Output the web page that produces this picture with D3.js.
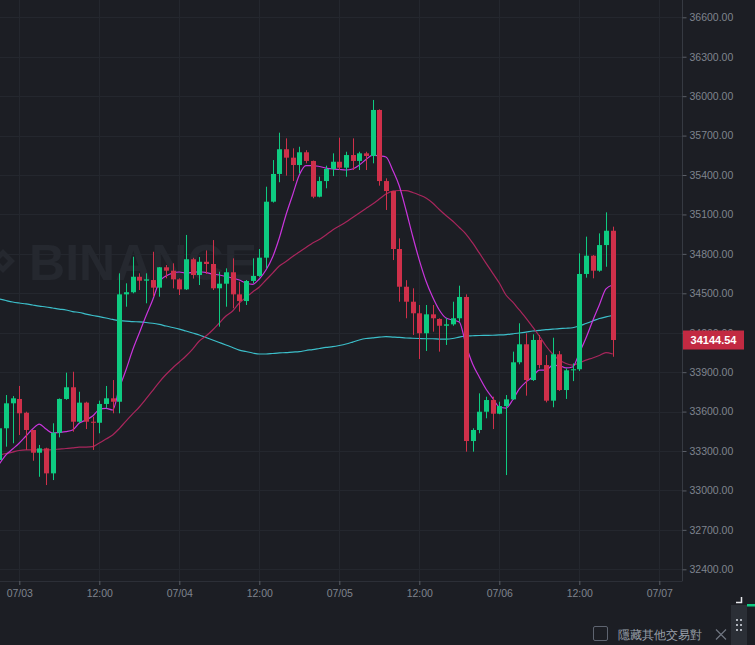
<html>
<head>
  <script src="https://d3js.org/d3.v7.min.js"></script>
  <style>
    body { margin: 0; background: #1c1e24; overflow: hidden; }
    text { font-family: "Liberation Sans", Arial, sans-serif; }
  </style>
</head>
<body>
  <svg id="chart" width="755" height="645"></svg>

  <script>
    // hourly candles, first one opens 07/02 21:00
    const startTime = new Date(2021, 6, 2, 21);

    const opens = [
      33232, 33473, 33663, 33696, 33591, 33460, 33287, 33320, 33130, 33439,
      33696, 33785, 33523, 33668, 33523, 33515, 33658, 33701, 33675, 34492,
      34508, 34626, 34596, 34601, 34543, 34698, 34672, 34606, 34530, 34759,
      34639, 34740, 34723, 34538, 34573, 34660, 34492, 34441, 34594, 34632,
      34771, 35197, 35408, 35596, 35532, 35476, 35573, 35507, 35235, 35354,
      35446, 35501, 35456, 35552, 35507, 35565, 35545, 35895, 35354, 35278,
      34837, 34550, 34436, 34348, 34196, 34340, 34305, 34253, 34264, 34310,
      34472, 33376, 33460, 33599, 33688, 33584, 33642, 33693, 33975, 34112,
      33840, 34145, 33954, 33683, 34036, 33764, 33914, 33922, 34647, 34786,
      34672, 34867, 34976
    ];
    const highs = [
      33498, 33726, 33718, 33795, 33599, 33460, 33346, 33325, 33511, 33700,
      33896, 33903, 33751, 33675, 33561, 33683, 33795, 33840, 34652, 34576,
      34778, 34652, 34652, 34816, 34700, 34715, 34728, 34614, 34944, 34770,
      34776, 34826, 34905, 34664, 34690, 34766, 34588, 34601, 34766, 34837,
      35311, 35514, 35722, 35679, 35603, 35615, 35589, 35510, 35387, 35471,
      35565, 35684, 35577, 35679, 35577, 35577, 35971, 35900, 35375, 35280,
      34918, 34600, 34538, 34411, 34411, 34411, 34310, 34310, 34436, 34558,
      34492, 33473, 33739, 33713, 33713, 33675, 33726, 34056, 34272, 34196,
      34188, 34183, 34030, 34162, 34061, 33929, 33967, 34804, 34931, 34791,
      34956, 35116, 35007
    ];
    const lows = [
      33216, 33333, 33359, 33422, 33308, 33226, 33104, 33041, 33079, 33404,
      33690, 33447, 33511, 33467, 33308, 33435, 33625, 33587, 33587, 34398,
      34500, 34525, 34424, 34474, 34474, 34614, 34538, 34487, 34525, 34612,
      34563, 34647, 34525, 34246, 34398, 34386, 34360, 34411, 34576, 34625,
      34690, 35190, 35345, 35395, 35354, 35413, 35489, 35223, 35230, 35299,
      35392, 35438, 35387, 35438, 35438, 35438, 35489, 35319, 35134, 34753,
      34436, 34310, 34183, 34000, 34061, 34208, 34056, 34107, 34253, 34284,
      33295, 33295, 33435, 33549, 33467, 33580, 33117, 33688, 33960, 33721,
      33833, 33929, 33670, 33633, 33757, 33696, 33832, 33909, 34619, 34614,
      34664, 34702, 34017
    ];
    const closes = [
      33473, 33663, 33701, 33587, 33460, 33287, 33320, 33130, 33439, 33696,
      33785, 33523, 33668, 33523, 33515, 33658, 33701, 33675, 34492, 34508,
      34626, 34596, 34606, 34543, 34698, 34672, 34606, 34530, 34759, 34639,
      34740, 34723, 34538, 34573, 34660, 34492, 34441, 34594, 34632, 34771,
      35197, 35408, 35596, 35532, 35476, 35573, 35507, 35235, 35354, 35446,
      35501, 35456, 35552, 35507, 35565, 35545, 35895, 35354, 35278, 34837,
      34550, 34436, 34348, 34196, 34340, 34310, 34253, 34264, 34310, 34472,
      33376, 33460, 33599, 33688, 33584, 33642, 33693, 33975, 34112, 33840,
      34145, 33954, 33683, 34036, 33764, 33914, 33922, 34647, 34786, 34672,
      34867, 34976, 34144.54
    ];

    // moving averages as drawn
    const ma7 = [
      33201, 33270, 33315, 33361, 33414, 33467, 33505, 33467, 33437, 33441,
      33447, 33460, 33513, 33536, 33566, 33616, 33625, 33612, 33779, 33916,
      34068, 34198, 34327, 34449, 34586, 34632, 34654, 34662, 34654, 34658,
      34664, 34658, 34647, 34639, 34628, 34616, 34601, 34578, 34568, 34609,
      34677, 34776, 34921, 35096, 35248, 35400, 35472, 35472, 35465, 35453,
      35446, 35442, 35438, 35446, 35476, 35518, 35552, 35545, 35537, 35438,
      35316, 35134, 34936, 34753, 34594, 34472, 34373, 34312, 34297, 34282,
      34107, 33962, 33863, 33772, 33703, 33635, 33627, 33688, 33772, 33825,
      33863, 33916, 33916, 33951, 33949, 33932, 33939, 34046, 34160, 34289,
      34411, 34533, 34563
    ];
    const ma25 = [
      33270, 33281, 33292, 33304, 33308, 33308, 33308, 33309, 33311, 33315,
      33319, 33324, 33329, 33330, 33334, 33361, 33391, 33422, 33471, 33528,
      33582, 33635, 33696, 33760, 33825, 33882, 33932, 33977, 34023, 34076,
      34137, 34175, 34221, 34274, 34327, 34365, 34426, 34468, 34510, 34548,
      34601, 34654, 34708, 34742, 34780, 34814, 34848, 34883, 34909, 34944,
      34982, 35012, 35042, 35077, 35111, 35145, 35179, 35217, 35256, 35278,
      35282, 35281, 35267, 35248, 35225, 35187, 35138, 35092, 35050, 35001,
      34951, 34883, 34807, 34730, 34654, 34578, 34487, 34434, 34373, 34312,
      34244, 34175, 34099, 34038, 33992, 33966, 33954, 33970, 33992, 34008,
      34027, 34049, 34038
    ];
    const ma99 = [
      34457, 34445, 34434, 34426, 34419, 34411, 34403, 34396, 34388, 34380,
      34373, 34361, 34354, 34342, 34331, 34322, 34312, 34301, 34291, 34289,
      34285, 34282, 34278, 34272, 34263, 34251, 34240, 34228, 34213, 34198,
      34183, 34164, 34145, 34126, 34107, 34088, 34068, 34057, 34046, 34038,
      34038, 34042, 34046, 34049, 34053, 34056, 34065, 34072, 34080, 34088,
      34094, 34103, 34114, 34129, 34145, 34156, 34161, 34166, 34170, 34167,
      34164, 34160, 34158, 34156, 34154, 34154, 34152, 34152, 34156, 34167,
      34175, 34177, 34179, 34180, 34181, 34183, 34186, 34192, 34198, 34205,
      34213, 34218, 34223, 34227, 34231, 34234, 34238, 34251, 34270, 34289,
      34308, 34320, 34331
    ];

    const priceTicks = d3.range(32400, 36601, 300);
    const timeTicks = d3.timeHour.every(12).range(new Date(2021, 6, 3, 0), new Date(2021, 6, 7, 1));

    const upColor = '#0ecb81';
    const downColor = '#cf304a';
    const gridColor = '#24272e';
    const labelColor = '#7f848e';

    const plotRight = 682.5;
    const plotBottom = 581;

    const times = opens.map((d, i) => d3.timeHour.offset(startTime, i));

    const x = d3.scaleTime()
      .domain([new Date(2021, 6, 3, 0), new Date(2021, 6, 7, 0)])
      .range([19.3, 659.3]);
    const y = d3.scaleLinear()
      .domain([32400, 36600])
      .range([569.3, 17.3]);

    const svg = d3.select('#chart');

    svg.append('rect')
      .attr('width', 755).attr('height', 645)
      .attr('fill', '#1c1e24');

    svg.append('defs').append('clipPath').attr('id', 'plot')
      .append('rect').attr('x', 0).attr('y', 0)
      .attr('width', plotRight).attr('height', plotBottom);

    // grid
    svg.append('g').selectAll('line').data(priceTicks).enter().append('line')
      .attr('x1', 0).attr('x2', plotRight)
      .attr('y1', d => Math.round(y(d)) + 0.5).attr('y2', d => Math.round(y(d)) + 0.5)
      .attr('stroke', gridColor);
    svg.append('g').selectAll('line').data(timeTicks).enter().append('line')
      .attr('y1', 0).attr('y2', plotBottom)
      .attr('x1', d => Math.round(x(d)) + 0.5).attr('x2', d => Math.round(x(d)) + 0.5)
      .attr('stroke', gridColor);

    // watermark
    const wm = svg.append('g').attr('clip-path', 'url(#plot)').attr('fill', '#25282f');
    wm.append('path').attr('d', 'M3,249 L15,261 L3,273 L-9,261 Z M3,256 L8,261 L3,266 L-2,261 Z')
      .attr('fill-rule', 'evenodd');
    wm.append('text')
      .attr('x', 29).attr('y', 280)
      .attr('font-size', 50).attr('font-weight', 700)
      .attr('textLength', 228).attr('lengthAdjust', 'spacing')
      .text('BINANCE');

    const plot = svg.append('g').attr('clip-path', 'url(#plot)');

    // moving averages
    const maLine = vals => d3.line()
      .x((d, i) => x(times[i]))
      .y(d => y(d))
      .curve(d3.curveMonotoneX)(vals);

    [[ma99, '#3cbfca'], [ma25, '#a8265c'], [ma7, '#c935dc']].forEach(([vals, color]) => {
      plot.append('path')
        .attr('d', maLine(vals))
        .attr('fill', 'none')
        .attr('stroke', color)
        .attr('stroke-width', 1.2);
    });

    // candles
    const candles = plot.append('g').selectAll('g')
      .data(opens.map((o, i) => ({ t: times[i], o, h: highs[i], l: lows[i], c: closes[i] })))
      .enter().append('g')
      .attr('fill', d => d.c >= d.o ? upColor : downColor)
      .attr('stroke', d => d.c >= d.o ? upColor : downColor);

    candles.append('line')
      .attr('x1', d => Math.round(x(d.t)) + 0.5).attr('x2', d => Math.round(x(d.t)) + 0.5)
      .attr('y1', d => y(d.h)).attr('y2', d => y(d.l))
      .attr('stroke-width', 1);

    candles.append('rect')
      .attr('x', d => Math.round(x(d.t)) - 2)
      .attr('width', 5)
      .attr('y', d => y(Math.max(d.o, d.c)))
      .attr('height', d => Math.max(1, Math.abs(y(d.o) - y(d.c))))
      .attr('stroke', 'none');

    // axes frame
    svg.append('line')
      .attr('x1', plotRight).attr('x2', plotRight).attr('y1', 0).attr('y2', plotBottom)
      .attr('stroke', '#363a42');
    svg.append('line')
      .attr('x1', 0).attr('x2', plotRight).attr('y1', plotBottom + 0.5).attr('y2', plotBottom + 0.5)
      .attr('stroke', '#2c2f37');

    const yAxis = svg.append('g')
      .attr('transform', `translate(${plotRight},0)`)
      .call(d3.axisRight(y).tickValues(priceTicks).tickFormat(d3.format('.2f')).tickSize(4).tickPadding(3));
    yAxis.select('.domain').remove();
    yAxis.selectAll('line').attr('stroke', '#5a5e67');
    yAxis.selectAll('text').attr('fill', labelColor).attr('font-size', 10.5)
      .attr('font-family', '"Liberation Sans", Arial, sans-serif');

    const xAxis = svg.append('g')
      .attr('transform', `translate(0,${plotBottom})`)
      .call(d3.axisBottom(x).tickValues(timeTicks)
        .tickFormat(d => d.getHours() === 0 ? d3.timeFormat('%m/%d')(d) : d3.timeFormat('%H:%M')(d))
        .tickSize(4).tickPadding(5));
    xAxis.select('.domain').remove();
    xAxis.selectAll('line').attr('stroke', '#5a5e67');
    xAxis.selectAll('text').attr('fill', labelColor).attr('font-size', 10.5)
      .attr('font-family', '"Liberation Sans", Arial, sans-serif');

    // last price tag
    const last = closes[closes.length - 1];
    svg.append('rect')
      .attr('x', plotRight + 0.5).attr('y', y(last) - 9.5)
      .attr('width', 61).attr('height', 19)
      .attr('fill', '#c22a42');
    svg.append('text')
      .attr('x', plotRight + 31).attr('y', y(last))
      .attr('dy', '0.35em').attr('text-anchor', 'middle')
      .attr('fill', '#ffffff').attr('font-size', 11).attr('font-weight', 700)
      .text(last.toFixed(2));

    // bottom bar
    svg.append('rect')
      .attr('x', 593.5).attr('y', 626.5).attr('width', 14).attr('height', 14).attr('rx', 1.5)
      .attr('fill', 'none').attr('stroke', '#5e6470');
    svg.append('text')
      .attr('x', 618).attr('y', 639)
      .attr('fill', '#9aa0aa').attr('font-size', 12)
      .attr('font-family', '"Noto Sans CJK TC", "Noto Sans CJK SC", sans-serif')
      .text('隱藏其他交易對');
    svg.append('path')
      .attr('d', 'M716,629.5 L726,639.5 M726,629.5 L716,639.5')
      .attr('stroke', '#6f7580').attr('stroke-width', 1.2);

    svg.append('rect').attr('x', 731).attr('y', 605).attr('width', 16).attr('height', 40).attr('fill', '#2b2f36');
    svg.append('rect').attr('x', 747).attr('y', 604).attr('width', 8).attr('height', 2.5).attr('fill', upColor);
    svg.append('path').attr('d', 'M736,602.5 L741.5,602.5 L741.5,597')
      .attr('fill', 'none').attr('stroke', '#e6e8ea').attr('stroke-width', 1.5);
    svg.append('g').attr('fill', '#aeb3bb').selectAll('rect')
      .data([[736, 619], [740, 619], [736, 624], [740, 624], [736, 629], [740, 629]])
      .enter().append('rect')
      .attr('x', d => d[0]).attr('y', d => d[1]).attr('width', 2).attr('height', 2);
  </script>
</body>
</html>
